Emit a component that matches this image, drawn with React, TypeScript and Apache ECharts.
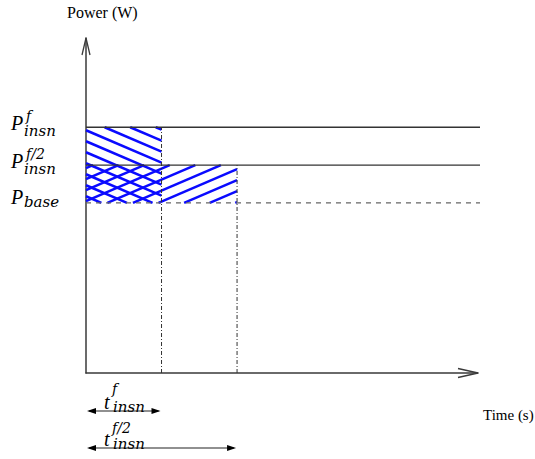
import React, { useEffect, useRef } from "react";
import * as echarts from "echarts";

// ---- data ----
const timeMarks = [1, 2]; // t_insn^f, t_insn^{f/2}
const timeSups = ["f", "f/2"];
const timeSubs = ["insn", "insn"];
const powerLevels = [6.5, 5.5, 4.5]; // P_insn^f, P_insn^{f/2}, P_base
const powerSups = ["f", "f/2", ""];
const powerSubs = ["insn", "insn", "base"];
const xMax = 5.19;
const yMax = 8.86;
const lineEnd = 5.26;
// hatched regions: [x0, x1, yLow, yHigh, direction(1 = "\", -1 = "/")]
const hatchRegions = [
  [0, timeMarks[0], powerLevels[2], powerLevels[0], 1],
  [0, timeMarks[1], powerLevels[2], powerLevels[1], -1],
];

const AXIS = "#3a3a3a";
const BLUE = "#0a0aff";
const SERIF = "Liberation Serif, Times New Roman, serif";
const DSERIF = "DejaVu Serif, serif";
const bigStyle = { fontFamily: SERIF, fontStyle: "italic", fontSize: 20 };
const supStyle = { fontFamily: DSERIF, fontStyle: "italic", fontSize: 14 };
const subStyle = { fontFamily: DSERIF, fontStyle: "italic", fontSize: 15 };

function txt(x: number, y: number, text: string, st: any) {
  return {
    type: "text",
    x,
    y,
    style: { text, ...st, fill: "#000", align: "left", verticalAlign: "middle" },
  };
}

export default function App() {
  const ref = useRef<HTMLDivElement>(null);
  useEffect(() => {
    document.body.style.margin = "0";
    const chart = echarts.init(ref.current!, null, { renderer: "svg" });

    const hLines = powerLevels.map((v, i) => ({
      type: "line",
      clip: false,
      silent: true,
      symbol: "none",
      data: [
        [0, v],
        [lineEnd, v],
      ],
      lineStyle: {
        color: i === 2 ? "#666" : "#333",
        width: 1.3,
        type: i === 2 ? [5, 5] : "solid",
      },
      z: 3,
    }));

    const vLines = timeMarks.map((t, i) => ({
      type: "line",
      clip: false,
      silent: true,
      symbol: "none",
      data: [
        [t, 0],
        [t, powerLevels[i]],
      ],
      lineStyle: { color: "#333", width: 1, type: [4, 2, 1, 2] },
      z: 3,
    }));

    const hatchSeries = {
      type: "custom",
      silent: true,
      data: hatchRegions,
      z: 2,
      renderItem: (params: any, api: any) => {
        const p0 = api.coord([api.value(0), api.value(3)]);
        const p1 = api.coord([api.value(1), api.value(2)]);
        const X0 = p0[0], Y0 = p0[1], X1 = p1[0], Y1 = p1[1];
        const dir = api.value(4);
        const slope = 0.43 * dir;
        const spacing = 11;
        const w = X1 - X0;
        const cMin = Y0 - Math.max(0, slope * w) - spacing;
        const cMax = Y1 - Math.min(0, slope * w) + spacing;
        const anchor = Y0 + 3;
        const kStart = Math.floor((cMin - anchor) / spacing);
        const kEnd = Math.ceil((cMax - anchor) / spacing);
        const children: any[] = [];
        for (let k = kStart; k <= kEnd; k++) {
          const c = anchor + k * spacing;
          let xa = X0 + (Y0 - c) / slope;
          let xb = X0 + (Y1 - c) / slope;
          if (xa > xb) [xa, xb] = [xb, xa];
          xa = Math.max(xa, X0);
          xb = Math.min(xb, X1);
          if (xb - xa < 0.5) continue;
          children.push({
            type: "line",
            shape: {
              x1: xa,
              y1: c + slope * (xa - X0),
              x2: xb,
              y2: c + slope * (xb - X0),
            },
            style: { stroke: BLUE, lineWidth: 2.5, lineCap: "butt" },
          });
        }
        return { type: "group", children };
      },
    };

    const powerLabelSeries = {
      type: "custom",
      silent: true,
      data: powerLevels.map((v, i) => [0, v, i]),
      z: 5,
      renderItem: (params: any, api: any) => {
        const pt = api.coord([api.value(0), api.value(1)]);
        const i = api.value(2);
        const ax = pt[0], ly = pt[1];
        const hasSup = powerSups[i] !== "";
        const children: any[] = [
          txt(ax - 75, ly - (hasSup ? 4 : 5.5), "P", bigStyle),
          txt(ax - 62, hasSup ? ly + 4 : ly - 1, powerSubs[i], subStyle),
        ];
        if (hasSup) children.push(txt(ax - 60, ly - 11, powerSups[i], supStyle));
        return { type: "group", children };
      },
    };

    const timeDimSeries = {
      type: "custom",
      silent: true,
      data: timeMarks.map((t, i) => [t, i]),
      z: 5,
      renderItem: (params: any, api: any) => {
        const origin = api.coord([0, 0]);
        const end = api.coord([api.value(0), 0]);
        const i = api.value(1);
        const y = origin[1] + (i === 0 ? 38 : 75);
        const xa = origin[0] + 1;
        const xb = end[0] - 1;
        const head = 9, half = 3;
        return {
          type: "group",
          children: [
            {
              type: "line",
              shape: { x1: xa + 2, y1: y, x2: xb - 2, y2: y },
              style: { stroke: "#222", lineWidth: 1.2 },
            },
            {
              type: "polygon",
              shape: { points: [[xa, y], [xa + head, y - half], [xa + head, y + half]] },
              style: { fill: "#000" },
            },
            {
              type: "polygon",
              shape: { points: [[xb, y], [xb - head, y - half], [xb - head, y + half]] },
              style: { fill: "#000" },
            },
            txt(xa + 17, y - 9, "t", bigStyle),
            txt(xa + 25, y - (i === 0 ? 22 : 20.5), timeSups[i], supStyle),
            txt(xa + 26, y - 4, timeSubs[i], subStyle),
          ],
        };
      },
    };

    const arrowSeries = {
      type: "custom",
      silent: true,
      data: [[0, yMax, xMax, 0]],
      z: 5,
      renderItem: (params: any, api: any) => {
        const top = api.coord([api.value(0), api.value(1)]);
        const right = api.coord([api.value(2), api.value(3)]);
        return {
          type: "group",
          children: [
            {
              type: "polyline",
              shape: { points: [[top[0] - 4, top[1] + 17], [top[0], top[1]], [top[0] + 4, top[1] + 17]] },
              style: { stroke: AXIS, lineWidth: 1.3, fill: "none" },
            },
            {
              type: "polyline",
              shape: { points: [[right[0] - 20, right[1] - 4.5], [right[0], right[1]], [right[0] - 20, right[1] + 4.5]] },
              style: { stroke: AXIS, lineWidth: 1.3, fill: "none" },
            },
          ],
        };
      },
    };

    chart.setOption({
      animation: false,
      backgroundColor: "#fff",
      textStyle: { fontFamily: SERIF },
      grid: { left: 86, right: 57, top: 38, bottom: 86 },
      xAxis: {
        type: "value",
        min: 0,
        max: xMax,
        axisLine: { show: true, onZero: false, lineStyle: { color: AXIS, width: 1.5 } },
        axisTick: { show: false },
        axisLabel: { show: false },
        splitLine: { show: false },
      },
      yAxis: {
        type: "value",
        min: 0,
        max: yMax,
        axisLine: { show: true, onZero: false, lineStyle: { color: AXIS, width: 1.5 } },
        axisTick: { show: false },
        axisLabel: { show: false },
        splitLine: { show: false },
      },
      graphic: [
        {
          type: "text",
          left: 67,
          top: 4,
          style: { text: "Power (W)", fontFamily: SERIF, fontSize: 16, fill: "#000" },
        },
        {
          type: "text",
          left: 483,
          top: 407,
          style: { text: "Time (s)", fontFamily: SERIF, fontSize: 15, fill: "#000" },
        },
      ],
      series: [hatchSeries, ...hLines, ...vLines, powerLabelSeries, timeDimSeries, arrowSeries],
    });
    return () => chart.dispose();
  }, []);
  return <div ref={ref} style={{ width: 535, height: 459 }} />;
}
